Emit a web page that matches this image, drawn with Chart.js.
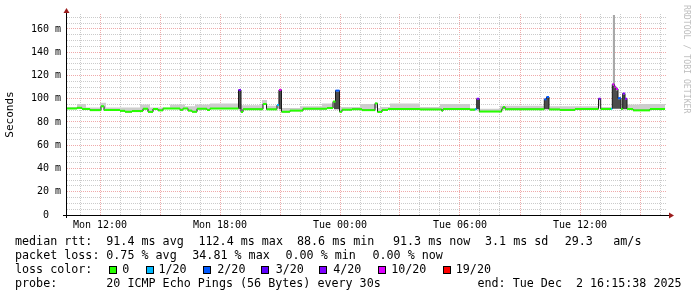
<!DOCTYPE html>
<html><head><meta charset="utf-8">
<script src="https://cdn.jsdelivr.net/npm/chart.js@4"></script>
<style>
html,body{margin:0;padding:0;background:#fff;}
#wrap{position:relative;width:697px;height:297px;overflow:hidden;background:#fff;}
canvas{position:absolute;left:0;top:0;}
.t{position:absolute;font-family:"DejaVu Sans Mono",monospace;font-size:11.7px;line-height:14px;white-space:pre;color:#000;}
.sw{position:absolute;width:8px;height:8px;box-sizing:border-box;border:1px solid #000;}
#wm{position:absolute;left:692px;top:5px;transform-origin:0 0;transform:rotate(90deg);font-family:"DejaVu Sans Mono",monospace;font-size:8.2px;line-height:normal;color:#bdbdbd;white-space:pre;}
</style></head>
<body><div id="wrap"><canvas id="c" width="697" height="297"></canvas><div id="wm">RRDTOOL / TOBI OETIKER</div></div>
<script>
// ---------------- data (x in hours since Mon 00:00, y in ms) ----------------
const X_START = 10.35, X_END = 40.35;
const xTickHours = [12, 18, 24, 30, 36];
const xTickLabels = ['Mon 12:00', 'Mon 18:00', 'Tue 00:00', 'Tue 06:00', 'Tue 12:00'];
const yTickMs = [0, 20, 40, 60, 80, 100, 120, 140, 160];
const yTickLabels = ['0  ', '20 m', '40 m', '60 m', '80 m', '100 m', '120 m', '140 m', '160 m'];

const lossLevels = [0, 1, 2, 3, 4, 10, 19];
const lossColors = ['#26ff00', '#00b8ff', '#0059ff', '#5e00ff', '#7e00ff', '#dd00ff', '#ff0000'];
const lossLabels = ['0', '1/20', '2/20', '3/20', '4/20', '10/20', '19/20'];

const medianHours = [10.35, 10.85, 11.10, 11.50, 12.05, 12.20, 13.00, 13.25, 13.60, 14.15,
  14.40, 14.65, 14.90, 15.15, 16.00, 16.15, 16.40, 16.60, 16.85, 17.35,
  17.50, 18.925, 19.05, 19.15, 20.15, 20.325, 20.85, 20.95, 21.075, 21.50,
  22.15, 23.35, 23.65, 23.775, 23.975, 24.10, 24.60, 25.10, 25.75, 25.875,
  26.10, 26.40, 28.00, 29.085, 29.15, 30.50, 30.75, 30.835, 30.965, 32.085,
  32.15, 32.25, 34.215, 34.325, 34.45, 35.00, 35.75, 36.925, 37.035, 37.55,
  37.615, 37.715, 37.80, 37.90, 38.05, 38.135, 38.25, 38.35, 38.65, 39.50,
  40.25];
const medianMs = [91.6, 92.2, 91.2, 90.2, 93.5, 90.3, 89.6, 88.8, 89.4, 91.4,
  88.7, 91.2, 90.0, 91.6, 90.5, 91.6, 89.8, 88.8, 91.4, 90.4,
  91.6, 107.5, 88.6, 91.0, 95.5, 90.9, 94.6, 107.6, 88.8, 89.8,
  91.4, 92.0, 97.6, 107.0, 88.8, 90.6, 91.0, 90.2, 96.0, 88.6,
  90.4, 91.2, 90.8, 89.6, 91.2, 90.6, 91.0, 100.0, 89.0, 91.0,
  93.0, 91.0, 99.5, 101.5, 90.8, 90.4, 91.2, 100.0, 91.2, 91.5,
  112.4, 110.3, 108.3, 100.5, 91.2, 104.5, 100.0, 91.2, 90.0, 91.2,
  91.3];
const medianLoss = [0, 0, 0, 0, 0, 0, 0, 0, 0, 0,
  0, 0, 0, 0, 0, 0, 0, 0, 0, 0,
  0, 4, 0, 0, 0, 0, 1, 10, 0, 0,
  0, 0, 0, 2, 0, 0, 0, 0, 0, 0,
  0, 0, 0, 0, 0, 0, 1, 4, 0, 0,
  0, 0, 2, 2, 0, 0, 0, 4, 0, 1,
  10, 10, 10, 2, 0, 4, 4, 0, 0, 0,
  0];

const smokeHours = [10.35, 10.85, 11.30, 12.00, 12.30, 14.00, 14.50, 15.50, 16.25, 16.75,
  17.50, 18.90, 19.05, 20.10, 20.35, 20.85, 21.15, 22.00, 23.10, 23.65,
  24.00, 25.00, 25.75, 26.00, 26.50, 28.00, 29.00, 30.50, 31.00, 32.00,
  34.25, 34.50, 37.00, 37.55, 38.35, 39.00, 40.25];
const smokeMaxMs = [93, 95.5, 92.5, 96.5, 92.5, 95, 92.5, 95, 93.5, 95,
  96, 92, 94.5, 99, 94, 92, 92, 93.5, 96, 92,
  93, 95.5, 92, 93, 96, 93, 95.5, 92, 91.5, 94,
  92, 93.5, 93, 92, 95, 95.5, 95.5];

const denseHours = [18.925, 19.05, 19.05, 20.925, 21.075, 21.075, 23.70, 23.775, 23.975, 23.975,
  30.835, 30.965, 30.965, 34.215, 34.325, 34.45, 34.45, 37.55, 37.615, 37.715,
  37.80, 37.90, 38.05, 38.05, 38.115, 38.25, 38.35];
const denseHighMs = [107, 107, null, 107, 107, null, 97, 106, 106, null,
  99, 99, null, 99, 101, 101, null, 92, 111, 109,
  107, 99.5, 99.5, null, 103.5, 99, 99];
const denseLowMs = [91, 91, null, 91, 91, null, 91, 91, 91, null,
  91, 91, null, 91, 91, 91, null, 91.5, 91.5, 91.5,
  91.5, 91.5, 91.5, null, 91, 91, 91];

const maxPingHours = [37.635, 37.75];
const maxPingMs = [172, 172];
const maxPingLowMs = [92, 92];

const statLines = [
  [['median rtt:', 15], ['91.4 ms avg', 106.3], ['112.4 ms max', 198.5], ['88.6 ms min', 297], ['91.3 ms now', 393], ['3.1 ms sd', 485], ['29.3', 564.7], ['am/s', 613.3]],
  [['packet loss:', 15], ['0.75 % avg', 106.3], ['34.81 % max', 192.3], ['0.00 % min', 285.5], ['0.00 % now', 372.5]],
  [['loss color:', 15]],
  [['probe:', 15], ['20 ICMP Echo Pings (56 Bytes) every 30s', 106.3], ['end: Tue Dec  2 16:15:38 2025', 477.5]]
];

// ---------------- layout constants ----------------
const Y_MAX = 172.9;
const lineTops = [234, 247.9, 261.8, 275.7];
const swatchX = [108.5, 145.7, 202.7, 261, 319.3, 377.7, 442.7];
const swatchLabelX = [122.3, 158.5, 217.3, 275.7, 333.2, 391.2, 455.8];
const MAJOR = '#efaaaa', MINOR = '#cbcbcb';

function colorForLoss(l) {
  let c = lossColors[0];
  for (let i = 0; i < lossLevels.length; i++) if (l >= lossLevels[i]) c = lossColors[i];
  return c;
}
const pts = (xs, ys) => xs.map((x, i) => ({x: x, y: ys[i]}));

const medianBars = [];
const medianBarLoss = [];
for (let i = 0; i < medianHours.length - 1; i++) {
  medianBars.push({x: medianHours[i], y: medianMs[i]}, {x: medianHours[i + 1], y: medianMs[i]}, {x: medianHours[i + 1], y: null});
  medianBarLoss.push(medianLoss[i]);
}

const xGrid = [];
for (let h = Math.ceil(X_START); h <= X_END; h++) xGrid.push(h);
const yGrid = [];
for (let v = 0; v < Y_MAX; v += 5) yGrid.push(v);

const STEP = 'before';
const base = {pointRadius: 0, borderWidth: 0, borderColor: 'transparent', stepped: STEP, spanGaps: false};

const rrdAxes = {
  id: 'rrdAxes',
  afterDraw(chart) {
    const {ctx, chartArea: a} = chart;
    ctx.save();
    ctx.fillStyle = '#000';
    ctx.fillRect(a.left - 4, a.bottom, a.right - a.left + 6, 1);
    ctx.fillRect(a.left - 1, a.top - 1, 1, a.bottom - a.top + 4);
    ctx.fillStyle = '#9b1c1c';
    ctx.beginPath();
    ctx.moveTo(a.left - 0.5, a.top - 6);
    ctx.lineTo(a.left - 3.5, a.top - 1);
    ctx.lineTo(a.left + 2.5, a.top - 1);
    ctx.closePath(); ctx.fill();
    ctx.beginPath();
    ctx.moveTo(a.right + 7, a.bottom + 0.5);
    ctx.lineTo(a.right + 2, a.bottom - 2.5);
    ctx.lineTo(a.right + 2, a.bottom + 3.5);
    ctx.closePath(); ctx.fill();
    ctx.restore();
  }
};

const monoFont = {family: 'DejaVu Sans Mono', size: 10};

new Chart(document.getElementById('c'), {
  type: 'line',
  data: {
    datasets: [
      { data: medianBars, pointRadius: 0, borderWidth: 2, spanGaps: false, fill: false,
        segment: { borderColor: c => colorForLoss(medianBarLoss[Math.floor(c.p0DataIndex / 3)]) },
        borderColor: lossColors[0] },
      { data: pts(medianHours, medianMs), pointRadius: 0, borderWidth: 1, borderColor: '#1a1a1a', stepped: STEP, fill: false },
      Object.assign({}, base, { data: pts(denseHours, denseHighMs), fill: 3, backgroundColor: '#4d4d4d' }),
      Object.assign({}, base, { data: pts(denseHours, denseLowMs), fill: false }),
      Object.assign({}, base, { data: pts(maxPingHours, maxPingMs), fill: 5, backgroundColor: '#a9a9a9' }),
      Object.assign({}, base, { data: pts(maxPingHours, maxPingLowMs), fill: false }),
      Object.assign({}, base, { data: pts(smokeHours, smokeMaxMs), fill: 1, backgroundColor: '#cdcdcd' })
    ]
  },
  options: {
    responsive: false, animation: false, events: [],
    layout: { padding: { left: 0, right: 30, top: 14, bottom: 62 } },
    plugins: { legend: { display: false }, tooltip: { enabled: false } },
    scales: {
      x: {
        type: 'linear', min: X_START, max: X_END,
        afterBuildTicks: s => { s.ticks = xGrid.map(v => ({value: v})); },
        afterFit: s => { s.height = 20; },
        ticks: { autoSkip: false, maxRotation: 0, minRotation: 0, padding: 4, color: '#000', font: monoFont,
          callback: v => { const i = xTickHours.indexOf(v); return i >= 0 ? xTickLabels[i] : ''; } },
        grid: { drawTicks: false, lineWidth: 1, color: c => (c.tick && c.tick.value % 3 === 0) ? MAJOR : MINOR },
        border: { display: false, dash: [1, 1] }
      },
      y: {
        min: 0, max: Y_MAX,
        afterBuildTicks: s => { s.ticks = yGrid.map(v => ({value: v})); },
        afterFit: s => { s.width = 67; },
        ticks: { autoSkip: false, padding: 6, color: '#000', font: monoFont,
          callback: v => { const i = yTickMs.indexOf(v); return i >= 0 ? yTickLabels[i] : ''; } },
        grid: { drawTicks: false, lineWidth: 1, color: c => (c.tick && c.tick.value % 20 === 0) ? MAJOR : MINOR },
        border: { display: false, dash: [1, 1] },
        title: { display: true, text: 'Seconds', color: '#000', font: {family: 'DejaVu Sans Mono', size: 11} }
      }
    }
  },
  plugins: [rrdAxes]
});

// ---------------- text block below the graph ----------------
const wrap = document.getElementById('wrap');
statLines.forEach((line, li) => {
  line.forEach(([txt, x]) => {
    const d = document.createElement('div');
    d.className = 't'; d.textContent = txt;
    d.style.left = x + 'px'; d.style.top = lineTops[li] + 'px';
    wrap.appendChild(d);
  });
});
lossLabels.forEach((lab, i) => {
  const s = document.createElement('div');
  s.className = 'sw'; s.style.background = lossColors[i];
  s.style.left = swatchX[i] + 'px'; s.style.top = '265.5px';
  wrap.appendChild(s);
  const d = document.createElement('div');
  d.className = 't'; d.textContent = lab;
  d.style.left = swatchLabelX[i] + 'px'; d.style.top = lineTops[2] + 'px';
  wrap.appendChild(d);
});
</script>
</body></html>
